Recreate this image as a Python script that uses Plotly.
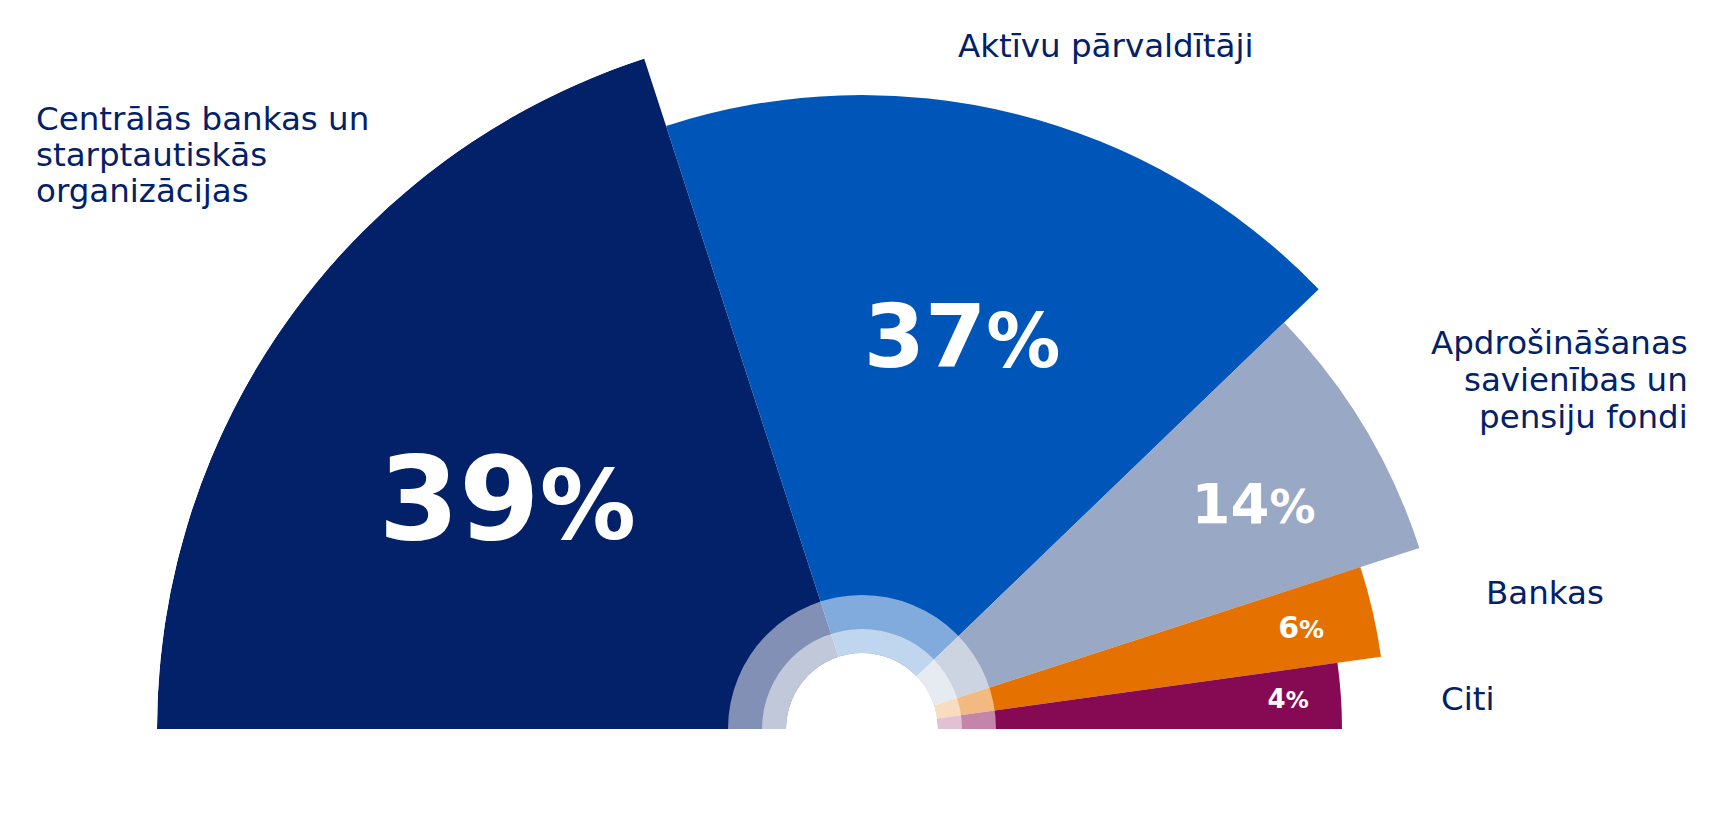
import math
import plotly.graph_objects as go

# ---------------- data ----------------
categories = ["Centrālās bankas un starptautiskās organizācijas",
              "Aktīvu pārvaldītāji",
              "Apdrošināšanas sabiedrības un pensiju fondi",
              "Bankas",
              "Citi"]
share_drawn = [40.0, 35.6, 14.4, 5.6, 4.4]        # share of the half circle, as drawn
share_label = ["39", "37", "14", "6", "4"]         # printed percentages
sector_length = [705, 634, 586, 524, 480]          # outer radius of each sector

label_lines = [["Centrālās bankas un", "starptautiskās", "organizācijas"],
               ["Aktīvu pārvaldītāji"],
               ["Apdrošināšanas", "savienības un", "pensiju fondi"],
               ["Bankas"],
               ["Citi"]]

# ---------------- style ----------------
PAGE_W, PAGE_H = 1732, 822
OFF = 8                      # default body margin of the html page
W, H = PAGE_W - 2 * OFF, PAGE_H - 2 * OFF
CX, CY = 862 - OFF, 729 - OFF   # centre of the half circle in figure px
RMAX = max(sector_length)
colors = ["#022168", "#0056B8", "#99A8C5", "#E57200", "#860A53"]
navy = "#022168"
FONT = "DejaVu Sans"
hole_r, ring1_r, ring2_r = 76, 100, 134
digit_size = [116, 88, 56, 30, 26]
pct_size = [96, 74, 46, 25, 23]
label_r = [417, 397, 449, 450, 427]          # radius of the percentage text
label_theta = [148.3, 75.4, 29.3, 12.6, 3.7]  # angle of the percentage text

total = sum(share_drawn)
spans = [s / total * 180 for s in share_drawn]
mids = []
a = 180.0
for sp in spans:
    mids.append(a - sp / 2)
    a -= sp

fig = go.Figure()
fig.add_trace(go.Barpolar(
    r=sector_length, theta=mids, width=spans,
    marker=dict(color=colors, line=dict(width=0)),
    hoverinfo="skip", showlegend=False))

# translucent rings near the centre
for outer in (ring2_r, ring1_r):
    fig.add_trace(go.Barpolar(r=[outer - hole_r], base=[hole_r], theta=[90], width=[180],
                              marker=dict(color="rgba(255,255,255,0.5)", line=dict(width=0)),
                              hoverinfo="skip", showlegend=False))
fig.add_trace(go.Barpolar(r=[hole_r], base=[0], theta=[90], width=[180],
                          marker=dict(color="#FFFFFF", line=dict(width=0)),
                          hoverinfo="skip", showlegend=False))

# percentage labels inside the sectors
for i in range(len(categories)):
    txt = "<b>%s<span style='font-size:%dpx'>%%</span></b>" % (share_label[i], pct_size[i])
    fig.add_trace(go.Scatterpolar(
        r=[label_r[i]], theta=[label_theta[i]],
        mode="text", text=[txt], textposition="middle center",
        textfont=dict(family=FONT, size=digit_size[i], color="#FFFFFF"),
        hoverinfo="skip", showlegend=False))

# category labels (page pixel positions of baselines)
label_pos = [  # (x, first baseline, line step, anchor)
    (35, 130, 36, "left"),
    (1105, 57, 36, "center"),
    (1689, 354, 37, "right"),
    (1485, 604, 36, "left"),
    (1440, 710, 36, "left"),
]
LFS = 32.5
annotations = []
for lines, (x, b0, step, anc) in zip(label_lines, label_pos):
    for j, ln in enumerate(lines):
        base = b0 + j * step
        top = base - 31 - OFF
        annotations.append(dict(
            x=(x - OFF) / W, y=1 - top / H, xref="paper", yref="paper",
            xanchor=anc, yanchor="top", text=ln, showarrow=False,
            font=dict(family=FONT, size=LFS, color=navy), borderpad=0))

fig.update_layout(
    width=W, height=H, margin=dict(l=0, r=0, t=0, b=0),
    paper_bgcolor="white", plot_bgcolor="white",
    annotations=annotations,
    polar=dict(
        domain=dict(x=[(CX - RMAX) / W, (CX + RMAX) / W],
                    y=[(H - CY) / H, (H - CY + RMAX) / H]),
        sector=[0, 180], bgcolor="white", bargap=0, hole=0,
        radialaxis=dict(range=[0, RMAX], visible=False, showgrid=False),
        angularaxis=dict(visible=False, showgrid=False, direction="counterclockwise",
                         rotation=0),
    ),
)

fig.write_html("out.html")
